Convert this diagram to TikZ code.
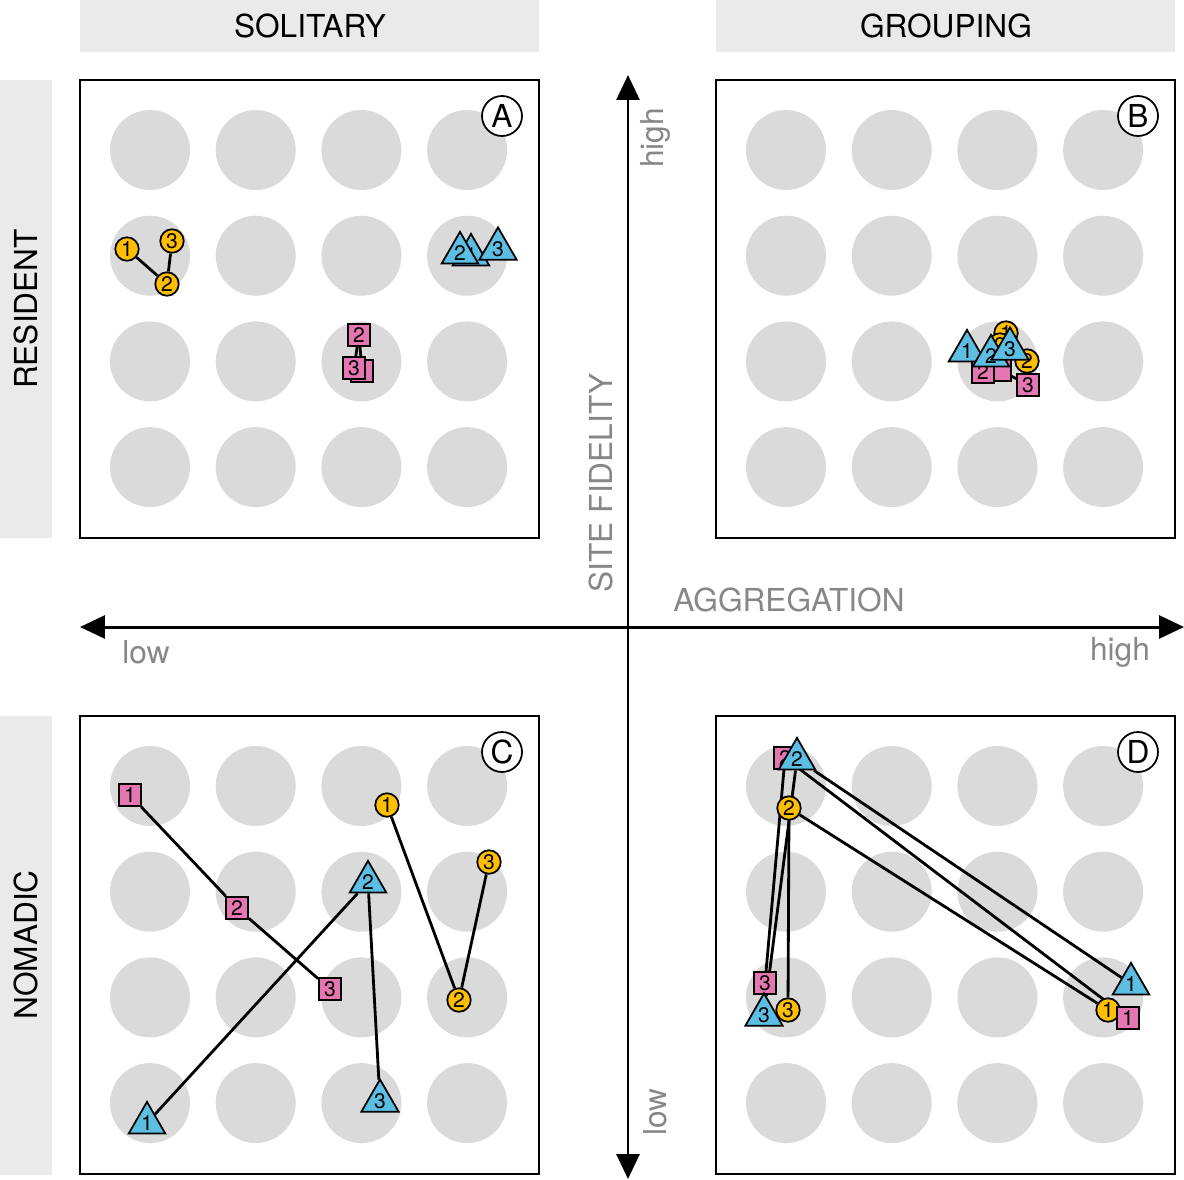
\documentclass[tikz,border=0pt]{standalone}
\usepackage{fontspec}
\setmainfont{TeX Gyre Heros}
\usetikzlibrary{arrows.meta,shapes.geometric}
\definecolor{barfill}{RGB}{234,234,234}
\definecolor{sitefill}{RGB}{218,218,218}
\definecolor{axistext}{RGB}{135,135,135}
\definecolor{dotfill}{RGB}{255,190,0}
\definecolor{boxfill}{RGB}{228,118,178}
\definecolor{trifill}{RGB}{92,190,226}
\pgfdeclarelayer{sites}
\pgfdeclarelayer{tracks}
\pgfsetlayers{sites,tracks,main}

\begin{document}
\begin{tikzpicture}[x=0.02cm, y=-0.02cm,
    panel/.style={draw, line width=1.1pt},
    header/.style={font=\fontsize{18}{18}\selectfont},
    axislabel/.style={text=axistext, font=\fontsize{18}{18}\selectfont},
    tag/.style={circle, draw, fill=white, line width=1pt, minimum size=0.8cm, inner sep=0pt, font=\fontsize{18}{18}\selectfont},
    dot/.style={circle, draw, line width=1pt, fill=dotfill, minimum size=0.47cm, inner sep=0pt, font=\fontsize{12}{12}\selectfont},
    box/.style={rectangle, draw, line width=1pt, fill=boxfill, minimum size=0.44cm, inner sep=0pt, font=\fontsize{12}{12}\selectfont},
    tri/.style={regular polygon, regular polygon sides=3, draw, line width=1pt, fill=trifill, minimum size=0.8cm, inner sep=0pt, font=\fontsize{12}{12}\selectfont},
    track/.style={line width=1.6pt},
    axis/.style={line width=1.7pt, {Triangle[length=0.5cm,width=0.46cm]}-{Triangle[length=0.5cm,width=0.46cm]}}
]
    \useasboundingbox (0,0) rectangle (1184,1180);

    % header and side bars
    \fill[barfill] (80,0) rectangle (539,52);
    \fill[barfill] (716,0) rectangle (1175,52);
    \fill[barfill] (0,80) rectangle (52,538);
    \fill[barfill] (0,716) rectangle (52,1175);
    \node[header] (solitary) at (310,26) {SOLITARY};
    \node[header] (grouping) at (946,26) {GROUPING};
    \node[header, rotate=90] (resident) at (26,309) {RESIDENT};
    \node[header, rotate=90] (nomadic) at (26,945) {NOMADIC};

    % panels with the 4x4 sites
    \foreach \px/\py/\p in {80/80/A, 716/80/B, 80/716/C, 716/716/D} {
        \draw[panel] (\px,\py) rectangle +(459,458);
        \begin{pgfonlayer}{sites}
            \foreach \i in {0,...,3}
                \foreach \j in {0,...,3}
                    \fill[sitefill] (\px+70+\i*105.7, \py+70+\j*105.7) circle (0.8cm);
        \end{pgfonlayer}
        \node[tag] (tag\p) at (\px+422,\py+36) {\p};
    }

    % axes
    \coordinate (west) at (80,627);
    \coordinate (east) at (1184,627);
    \coordinate (north) at (628,75);
    \coordinate (south) at (628,1179);
    \draw[axis] (west) -- (east);
    \draw[axis] (north) -- (south);
    \node[axislabel] (aggregation) at (789,600) {AGGREGATION};
    \node[axislabel, rotate=90] (fidelity) at (601,483) {SITE FIDELITY};
    \node[axislabel] (xlow) at (146,652) {low};
    \node[axislabel] (xhigh) at (1120,652) {high};
    \node[axislabel, rotate=90] (yhigh) at (655,138) {high};
    \node[axislabel, rotate=90] (ylow) at (655,1112) {low};

    % A: resident, solitary
    \node[dot] (a-d1) at (127,249) {1};
    \node[dot] (a-d3) at (172,241) {3};
    \node[dot] (a-d2) at (167,284) {2};
    \node[box] (a-b2) at (359,335) {2};
    \node[box] (a-bx) at (362,371) {};
    \node[box] (a-b3) at (354,368) {3};
    \node[tri] (a-t1) at (471,255) {1};
    \node[tri] (a-t2) at (460,253) {2};
    \node[tri] (a-t3) at (498,249) {3};
    \begin{pgfonlayer}{tracks}
        \draw[track] (a-d1) -- (a-d2) -- (a-d3);
        \draw[track] (a-b2) -- (a-b3);
        \draw[track] (a-b2) -- (a-bx);
        \draw[track] (a-t1) -- (a-t3);
    \end{pgfonlayer}

    % B: resident, grouping
    \node[box] (b-bx) at (1000,370) {};
    \node[box] (b-b2) at (983,372) {2};
    \node[tri] (b-t1) at (967,351) {1};
    \node[dot] (b-d1) at (1006,333) {1};
    \node[dot] (b-d2) at (1000,345) {2};
    \node[dot] (b-d3) at (1027,361) {2};
    \node[tri] (b-t2) at (991,356) {2};
    \node[tri] (b-t3) at (1010,349) {3};
    \node[box] (b-b3) at (1028,385) {3};
    \begin{pgfonlayer}{tracks}
        \draw[track] (b-bx) -- (b-b3);
        \draw[track] (b-d1) -- (b-d2) -- (b-d3);
        \draw[track] (b-t1) -- (b-t2) -- (b-t3);
    \end{pgfonlayer}

    % C: nomadic, solitary
    \node[box] (c-b1) at (130,795) {1};
    \node[box] (c-b2) at (237,908) {2};
    \node[box] (c-b3) at (330,989) {3};
    \node[dot] (c-d1) at (387,805) {1};
    \node[dot] (c-d2) at (459,1000) {2};
    \node[dot] (c-d3) at (489,862) {3};
    \node[tri] (c-t1) at (147,1123) {1};
    \node[tri] (c-t2) at (368,882) {2};
    \node[tri] (c-t3) at (380,1101) {3};
    \begin{pgfonlayer}{tracks}
        \draw[track] (c-b1) -- (c-b2) -- (c-b3);
        \draw[track] (c-d1) -- (c-d2) -- (c-d3);
        \draw[track] (c-t1) -- (c-t2) -- (c-t3);
    \end{pgfonlayer}

    % D: nomadic, grouping
    \node[box] (d-b2) at (785,758) {2};
    \node[tri] (d-t2) at (797,759) {2};
    \node[dot] (d-d2) at (789,808) {2};
    \node[box] (d-b3) at (765,983) {3};
    \node[tri] (d-t3) at (764,1015) {3};
    \node[dot] (d-d3) at (788,1010) {3};
    \node[dot] (d-d1) at (1108,1010) {1};
    \node[box] (d-b1) at (1128,1018) {1};
    \node[tri] (d-t1) at (1131,984) {1};
    \begin{pgfonlayer}{tracks}
        \draw[track] (d-b1) -- (d-b2) -- (d-b3);
        \draw[track] (d-d1) -- (d-d2) -- (d-d3);
        \draw[track] (d-t1) -- (d-t2) -- (d-t3);
    \end{pgfonlayer}
\end{tikzpicture}
\end{document}
